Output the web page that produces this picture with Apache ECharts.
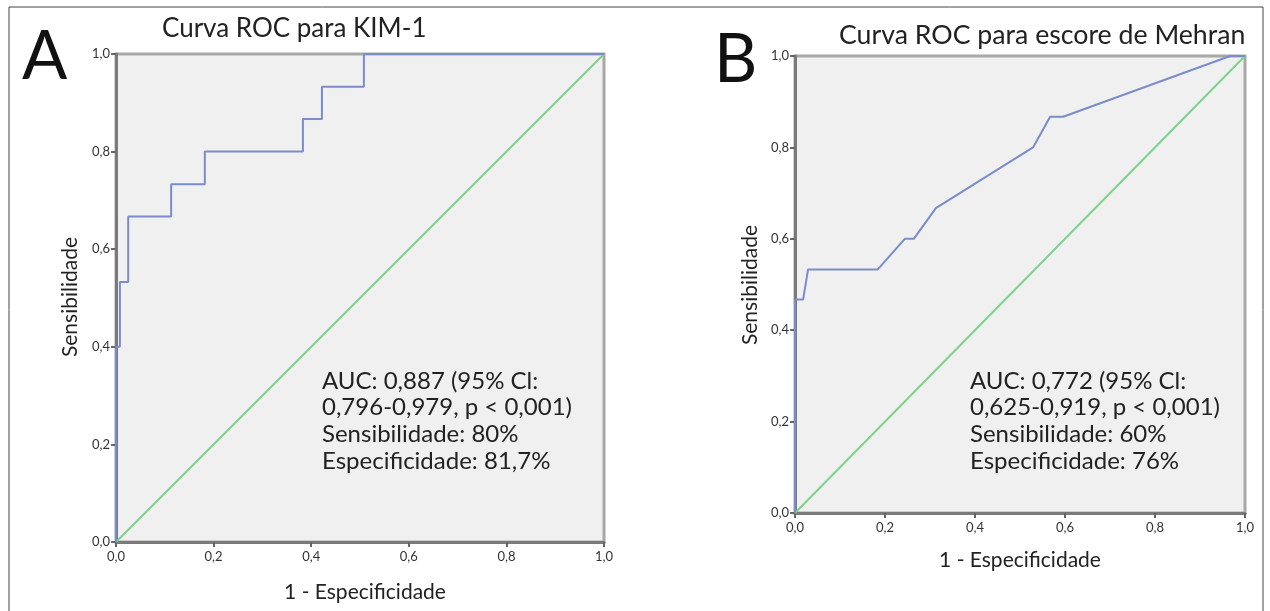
<!DOCTYPE html>
<html><head><meta charset="utf-8">
<script src="https://cdn.jsdelivr.net/npm/echarts@6/dist/echarts.min.js"></script>
<style>html,body{margin:0;padding:0;background:#fff}#c{width:1270px;height:611px}</style>
</head><body><div id="c"></div>
<script>
// Panel A: ROC for KIM-1 (1 - specificity, sensitivity)
const rocA_fpr = [0, 0, 0.008, 0.008, 0.025, 0.025, 0.113, 0.113, 0.182, 0.182, 0.383, 0.383, 0.422, 0.422, 0.508, 0.508, 1];
const rocA_tpr = [0, 0.4, 0.4, 0.533, 0.533, 0.667, 0.667, 0.733, 0.733, 0.8, 0.8, 0.867, 0.867, 0.933, 0.933, 1, 1];
// Panel B: ROC for Mehran score
const rocB_fpr = [0, 0, 0.018, 0.029, 0.184, 0.244, 0.264, 0.313, 0.529, 0.567, 0.596, 0.967, 1];
const rocB_tpr = [0, 0.467, 0.467, 0.533, 0.533, 0.6, 0.6, 0.667, 0.8, 0.867, 0.867, 1, 1];
const refLine = [0, 1];
const titleA = 'Curva ROC para KIM-1';
const titleB = 'Curva ROC para escore de Mehran';
const statsA = ['AUC: 0,887 (95% Cl:', '0,796-0,979, p < 0,001)', 'Sensibilidade: 80%', 'Especificidade: 81,7%'];
const statsB = ['AUC: 0,772 (95% Cl:', '0,625-0,919, p < 0,001)', 'Sensibilidade: 60%', 'Especificidade: 76%'];
const xName = '1 - Especificidade';
const yName = 'Sensibilidade';

const FONT = 'Lato, "Open Sans", sans-serif';
const fmt = v => v.toFixed(1).replace('.', ',');
const zip = (a, b) => a.map((v, i) => [v, b[i]]);

function xAxis(gi) {
  return {
    type: 'value', gridIndex: gi, min: 0, max: 1, interval: 0.2,
    axisLine: {show: true, lineStyle: {color: '#7a7a7a', width: 3}},
    axisTick: {show: true, length: 5, lineStyle: {color: '#666', width: 2}},
    axisLabel: {formatter: fmt, color: '#333', fontSize: 13, fontFamily: FONT, margin: 8},
    splitLine: {show: false}
  };
}
function yAxis(gi) {
  return {
    type: 'value', gridIndex: gi, min: 0, max: 1, interval: 0.2,
    axisLine: {show: true, lineStyle: {color: '#7a7a7a', width: 3}},
    axisTick: {show: true, length: 5, lineStyle: {color: '#666', width: 2}},
    axisLabel: {formatter: fmt, color: '#333', fontSize: 13, fontFamily: FONT, margin: 6},
    splitLine: {show: false}
  };
}
function textLines(lines, x, y0, dy) {
  return lines.map((t, i) => ({
    type: 'text', left: x, top: y0 + i * dy, z: 100,
    style: {text: t, fill: '#222', font: '24px ' + FONT}
  }));
}

const chart = echarts.init(document.getElementById('c'));
chart.setOption({
  backgroundColor: '#ffffff',
  animation: false,
  grid: [
    {left: 116, top: 54, width: 488, height: 488, show: true, backgroundColor: '#f0f0f0', borderColor: '#a8a8a8', borderWidth: 3},
    {left: 795, top: 56, width: 450, height: 457, show: true, backgroundColor: '#f0f0f0', borderColor: '#a8a8a8', borderWidth: 3}
  ],
  xAxis: [xAxis(0), xAxis(1)],
  yAxis: [yAxis(0), yAxis(1)],
  series: [
    {type: 'line', xAxisIndex: 0, yAxisIndex: 0, data: zip(refLine, refLine), symbol: 'none', lineStyle: {color: '#7dd38b', width: 2}},
    {type: 'line', xAxisIndex: 0, yAxisIndex: 0, data: zip(rocA_fpr, rocA_tpr), symbol: 'none', lineStyle: {color: '#7b8cca', width: 2}},
    {type: 'line', xAxisIndex: 1, yAxisIndex: 1, data: zip(refLine, refLine), symbol: 'none', lineStyle: {color: '#7dd38b', width: 2}},
    {type: 'line', xAxisIndex: 1, yAxisIndex: 1, data: zip(rocB_fpr, rocB_tpr), symbol: 'none', lineStyle: {color: '#7b8cca', width: 2}}
  ],
  graphic: [
    {type: 'rect', shape: {x: 9, y: 7, width: 1254, height: 640}, style: {fill: 'none', stroke: '#444', lineWidth: 1}, z: 0},
    {type: 'text', left: 22, top: 24, style: {text: 'A', fill: '#111', font: '67px ' + FONT}},
    {type: 'text', left: 714, top: 27, style: {text: 'B', fill: '#111', font: '67px ' + FONT}},
    {type: 'text', left: 162, top: 16, style: {text: titleA, fill: '#222', font: '26px ' + FONT}},
    {type: 'text', left: 839, top: 22, style: {text: titleB, fill: '#222', font: '26.7px ' + FONT}},
    {type: 'text', x: 365, y: 592, style: {text: xName, fill: '#222', font: '21px ' + FONT, align: 'center', verticalAlign: 'middle'}},
    {type: 'text', x: 1020, y: 560, style: {text: xName, fill: '#222', font: '21px ' + FONT, align: 'center', verticalAlign: 'middle'}},
    {type: 'text', x: 70, y: 297, rotation: Math.PI / 2, style: {text: yName, fill: '#222', font: '21px ' + FONT, align: 'center', verticalAlign: 'middle'}},
    {type: 'text', x: 750, y: 285, rotation: Math.PI / 2, style: {text: yName, fill: '#222', font: '21px ' + FONT, align: 'center', verticalAlign: 'middle'}},
    ...textLines(statsA, 322, 369, 26.7),
    ...textLines(statsB, 970, 369, 26.7)
  ]
});
</script></body></html>
